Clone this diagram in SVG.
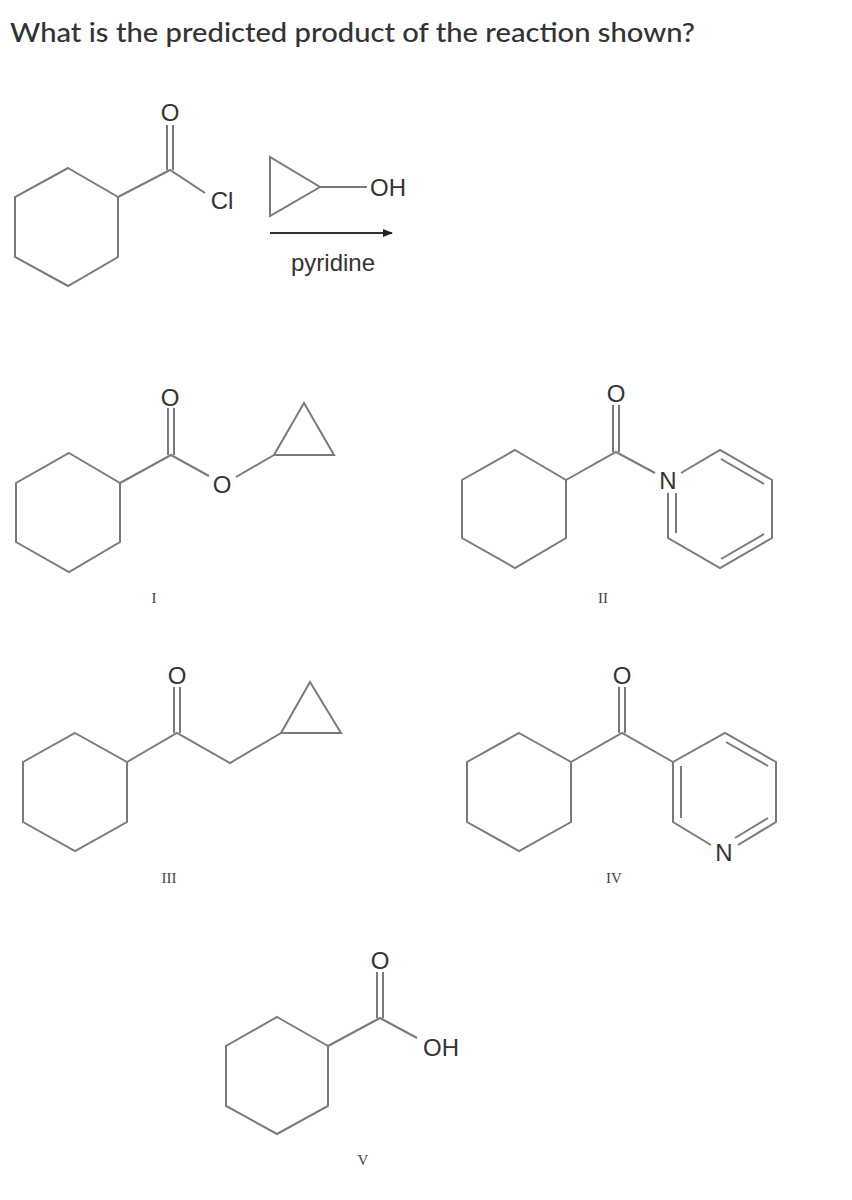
<svg xmlns="http://www.w3.org/2000/svg" width="852" height="1200" viewBox="0 0 852 1200">
<style>
.b{fill:none;stroke:#7a7a7a;stroke-width:2;stroke-linejoin:miter}
.a{font-family:"Liberation Sans",Arial,sans-serif;font-size:24px;fill:#333;text-anchor:middle;dominant-baseline:central}
.r{font-family:"Liberation Serif",serif;font-size:15px;fill:#444;text-anchor:middle}
.t{font-family:Lato,"Liberation Sans",sans-serif;font-size:26px;font-weight:500;fill:#333}
</style>
<defs><marker id="ah" markerWidth="10" markerHeight="8" refX="9" refY="4" orient="auto" markerUnits="userSpaceOnUse"><path d="M0,0 L10,4 L0,8 z" fill="#222"/></marker></defs>
<rect width="852" height="1200" fill="#fff"/>
<text class="t" x="10" y="42" textLength="685" lengthAdjust="spacingAndGlyphs">What is the predicted product of the reaction shown?</text>
<g id="reactant">
<polygon class="b" points="68,168 118,197 118,257 68,286 15,257 15,197"/>
<polyline class="b" points="118,197 170,170 205,193"/>
<line class="b" x1="167" y1="170" x2="167" y2="125"/><line class="b" x1="173" y1="170" x2="173" y2="125"/>
<text class="a" x="170" y="112">O</text><text class="a" x="222" y="200">Cl</text>
</g>
<g id="reagent">
<polygon class="b" points="270,157 270,216 320,187"/>
<line class="b" x1="320" y1="187" x2="367" y2="187"/>
<text class="a" x="388" y="187">OH</text>
<line x1="270" y1="233" x2="392" y2="233" stroke="#333" stroke-width="2" marker-end="url(#ah)"/>
<text class="a" x="333" y="262">pyridine</text>
</g>
<g id="I">
<polygon class="b" points="69,453 120,483 120,542 69,572 16,542 16,483"/>
<polyline class="b" points="120,483 171,455 209,476"/>
<line class="b" x1="168" y1="455" x2="168" y2="408"/><line class="b" x1="174" y1="455" x2="174" y2="408"/>
<text class="a" x="170" y="397">O</text><text class="a" x="222" y="484">O</text>
<line class="b" x1="236" y1="477" x2="274" y2="455"/>
<polygon class="b" points="274,455 304,403 334,455"/>
<text class="r" x="154" y="603">I</text>
</g>
<g id="II">
<polygon class="b" points="515,450 566,480 566,538 515,568 462,538 462,480"/>
<polyline class="b" points="566,480 616,452 655,473"/>
<line class="b" x1="613" y1="452" x2="613" y2="405"/><line class="b" x1="619" y1="452" x2="619" y2="405"/>
<text class="a" x="616" y="393">O</text><text class="a" x="668" y="480">N</text>
<polyline class="b" points="681,473 720,450 772,480 772,538 720,568 668,538 668,493"/>
<line class="b" x1="721" y1="459" x2="764" y2="484"/><line class="b" x1="764" y1="534" x2="721" y2="559"/><line class="b" x1="676" y1="493" x2="676" y2="533"/>
<text class="r" x="603" y="603">II</text>
</g>
<g id="III">
<polygon class="b" points="75,733 127,762 127,822 75,851 23,822 23,762"/>
<polyline class="b" points="127,762 177,733 230,763 281,733"/>
<line class="b" x1="174" y1="733" x2="174" y2="687"/><line class="b" x1="180" y1="733" x2="180" y2="687"/>
<text class="a" x="177" y="675">O</text>
<polygon class="b" points="281,733 310,682 341,733"/>
<text class="r" x="169" y="883">III</text>
</g>
<g id="IV">
<polygon class="b" points="519,733 571,762 571,822 519,851 467,822 467,762"/>
<polyline class="b" points="571,762 622,733 673,762"/>
<line class="b" x1="619" y1="733" x2="619" y2="687"/><line class="b" x1="625" y1="733" x2="625" y2="687"/>
<text class="a" x="622" y="675">O</text>
<polyline class="b" points="711,845 673,822 673,762 725,733 776,762 776,822 738,845"/>
<line class="b" x1="681" y1="766" x2="681" y2="818"/><line class="b" x1="726" y1="742" x2="768" y2="766"/><line class="b" x1="768" y1="818" x2="735" y2="838"/>
<text class="a" x="724" y="852">N</text>
<text class="r" x="614" y="883">IV</text>
</g>
<g id="V">
<polygon class="b" points="277,1017 328,1046 328,1106 277,1134 226,1106 226,1046"/>
<polyline class="b" points="328,1046 380,1018 417,1038"/>
<line class="b" x1="377" y1="1018" x2="377" y2="972"/><line class="b" x1="383" y1="1018" x2="383" y2="972"/>
<text class="a" x="380" y="960">O</text><text class="a" x="441" y="1047">OH</text>
<text class="r" x="363" y="1165">V</text>
</g>
</svg>
